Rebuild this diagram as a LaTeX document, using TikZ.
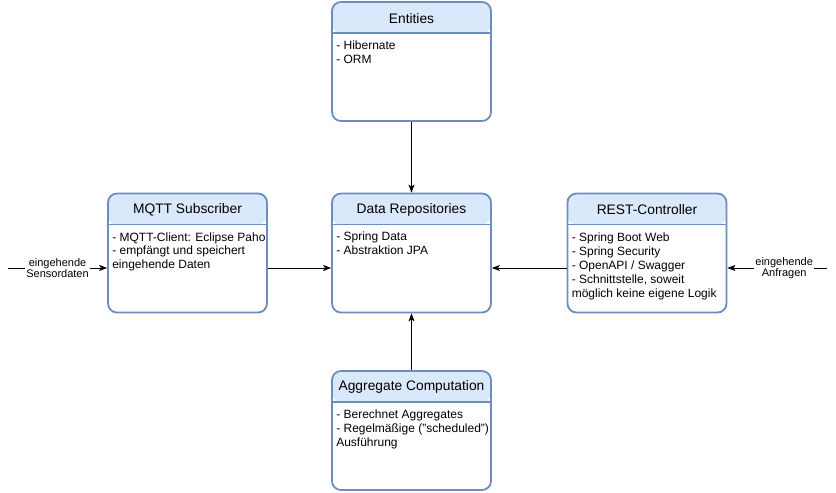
\documentclass[tikz,border=0pt]{standalone}
\usepackage{fontspec}
\setmainfont{Liberation Sans}
\usetikzlibrary{arrows.meta}
\definecolor{hdr}{HTML}{DAE8FC}
\definecolor{bdr}{HTML}{6C8EBF}
\begin{document}
\begin{tikzpicture}[x=1pt,y=-1pt,
  comp/.style={draw=bdr, line width=1.8pt, fill=white, rounded corners=9pt,
    minimum width=159pt, minimum height=119pt, inner sep=0pt,
    path picture={\fill[hdr] (path picture bounding box.north west) rectangle ([yshift=-31pt]path picture bounding box.north east);
      \draw[bdr, line width=1.4pt] ([yshift=-31pt]path picture bounding box.north west) -- ([yshift=-31pt]path picture bounding box.north east);}},
  ttl/.style={font=\fontsize{13.8}{16}\selectfont, inner sep=0pt},
  body/.style={font=\fontsize{12}{14}\selectfont, align=left, inner sep=0pt, anchor=north west},
  lbl/.style={font=\fontsize{11}{11.5}\selectfont, align=center, fill=white, inner sep=1pt},
  arr/.style={-{Stealth[length=8pt,width=6pt,inset=2pt]}, line width=0.8pt}
]
\useasboundingbox (0,0) rectangle (836,493);

\node[comp] (E)  at (411.5,61.5) {};
\node[comp] (DR) at (411.5,253) {};
\node[comp] (MQ) at (187.5,253) {};
\node[comp] (RC) at (647,253) {};
\node[comp] (AC) at (411.5,430.5) {};

\node[ttl] (Et)  at ([yshift=-17pt]E.north)  {Entities};
\node[ttl] (DRt) at ([yshift=-17pt]DR.north) {Data Repositories};
\node[ttl] (MQt) at ([yshift=-17pt]MQ.north) {MQTT Subscriber};
\node[ttl] (RCt) at ([yshift=-17pt]RC.north) {REST-Controller};
\node[ttl] (ACt) at ([yshift=-17pt]AC.north) {Aggregate Computation};

\node[body] (Eb)  at ([xshift=5pt,yshift=-39.5pt]E.north west)  {- Hibernate\\- ORM};
\node[body] (DRb) at ([xshift=5pt,yshift=-39.5pt]DR.north west) {- Spring Data\\- Abstraktion JPA};
\node[body] (MQb) at ([xshift=5pt,yshift=-39.5pt]MQ.north west) {- MQTT-Client: Eclipse Paho\\- empfängt und speichert\\eingehende Daten};
\node[body] (RCb) at ([xshift=5pt,yshift=-39.5pt]RC.north west) {- Spring Boot Web\\- Spring Security\\- OpenAPI / Swagger\\- Schnittstelle, soweit\\möglich keine eigene Logik};
\node[body] (ACb) at ([xshift=5pt,yshift=-39.5pt]AC.north west) {- Berechnet Aggregates\\- Regelmäßige ("scheduled")\\Ausführung};

\coordinate (inL) at (8,268);
\coordinate (inR) at (827,268);

\draw[arr] (E.south) -- (DR.north);
\draw[arr] (AC.north) -- (DR.south);
\draw[arr] (MQ.east |- inL) -- (DR.west |- inL);
\draw[arr] (RC.west |- inR) -- (DR.east |- inR);
\draw[arr] (inL) -- node[lbl, pos=0.5] (lL) {eingehende\\Sensordaten} (MQ.west |- inL);
\draw[arr] (inR) -- node[lbl, pos=0.43] (lR) {eingehende\\Anfragen} (RC.east |- inR);
\end{tikzpicture}
\end{document}
